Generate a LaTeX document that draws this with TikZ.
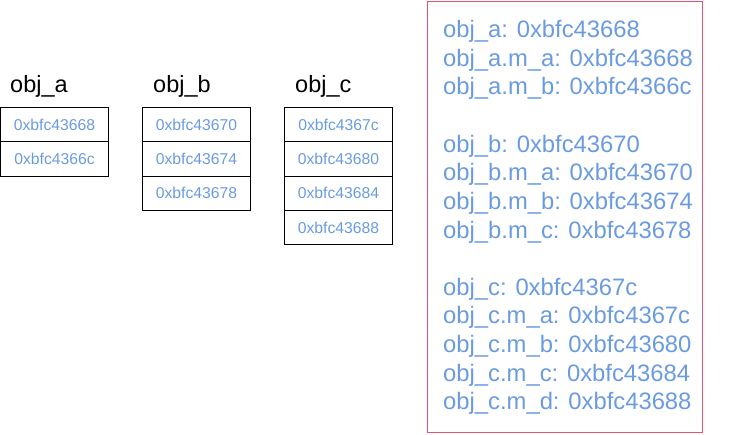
\documentclass[tikz,border=0pt]{standalone}
\usepackage{fontspec}
\setmainfont{Liberation Sans}
\usetikzlibrary{positioning}

\begin{document}
\begin{tikzpicture}[x=1pt,y=1pt]
  \definecolor{addrblue}{HTML}{6A9BE0}
  \definecolor{panelred}{HTML}{E25674}
  \newcommand{\colsep}[0]{34pt}
  \newcommand{\addrfont}[0]{\fontsize{15.7}{18}\selectfont}
  \newcommand{\listfont}[0]{\fontsize{23.8}{28.65}\selectfont}
  \tikzstyle{cell}  = [rectangle, draw = black, line width=1pt, outer sep=0pt, inner sep=0pt, minimum width=108pt, minimum height=34.3pt, text = addrblue, font=\addrfont]
  \tikzstyle{title} = [anchor=base west, inner sep=0pt, font=\fontsize{23.5}{28}\selectfont]
  \tikzstyle{panel} = [rectangle, draw = panelred, line width=1pt, minimum width=275pt, minimum height=431pt]

  \useasboundingbox (0,0) rectangle (739,-434);

  % memory cells of each object
  \node [cell]                       (a1) at (54.5,-124.6) {0xbfc43668};
  \node [cell, below = 0pt of a1]    (a2) {0xbfc4366c};

  \node [cell, right = \colsep of a1] (b1) {0xbfc43670};
  \node [cell, below = 0pt of b1]    (b2) {0xbfc43674};
  \node [cell, below = 0pt of b2]    (b3) {0xbfc43678};

  \node [cell, right = \colsep of b1] (c1) {0xbfc4367c};
  \node [cell, below = 0pt of c1]    (c2) {0xbfc43680};
  \node [cell, below = 0pt of c2]    (c3) {0xbfc43684};
  \node [cell, below = 0pt of c3]    (c4) {0xbfc43688};

  \node [title] (namea) at (10,-92)  {obj\_a};
  \node [title] (nameb) at (153,-92) {obj\_b};
  \node [title] (namec) at (295,-92) {obj\_c};

  % printed addresses
  \node [panel] (addrs) at (564.5,-216.5) {};
  \node [anchor=north west, inner sep=0pt, align=left, text=addrblue, font=\listfont] (addrlist) at (443,-20)
    {obj\_a: 0xbfc43668\\
     obj\_a.m\_a: 0xbfc43668\\
     obj\_a.m\_b: 0xbfc4366c\\[28.65pt]
     obj\_b: 0xbfc43670\\
     obj\_b.m\_a: 0xbfc43670\\
     obj\_b.m\_b: 0xbfc43674\\
     obj\_b.m\_c: 0xbfc43678\\[28.65pt]
     obj\_c: 0xbfc4367c\\
     obj\_c.m\_a: 0xbfc4367c\\
     obj\_c.m\_b: 0xbfc43680\\
     obj\_c.m\_c: 0xbfc43684\\
     obj\_c.m\_d: 0xbfc43688};
\end{tikzpicture}
\end{document}
